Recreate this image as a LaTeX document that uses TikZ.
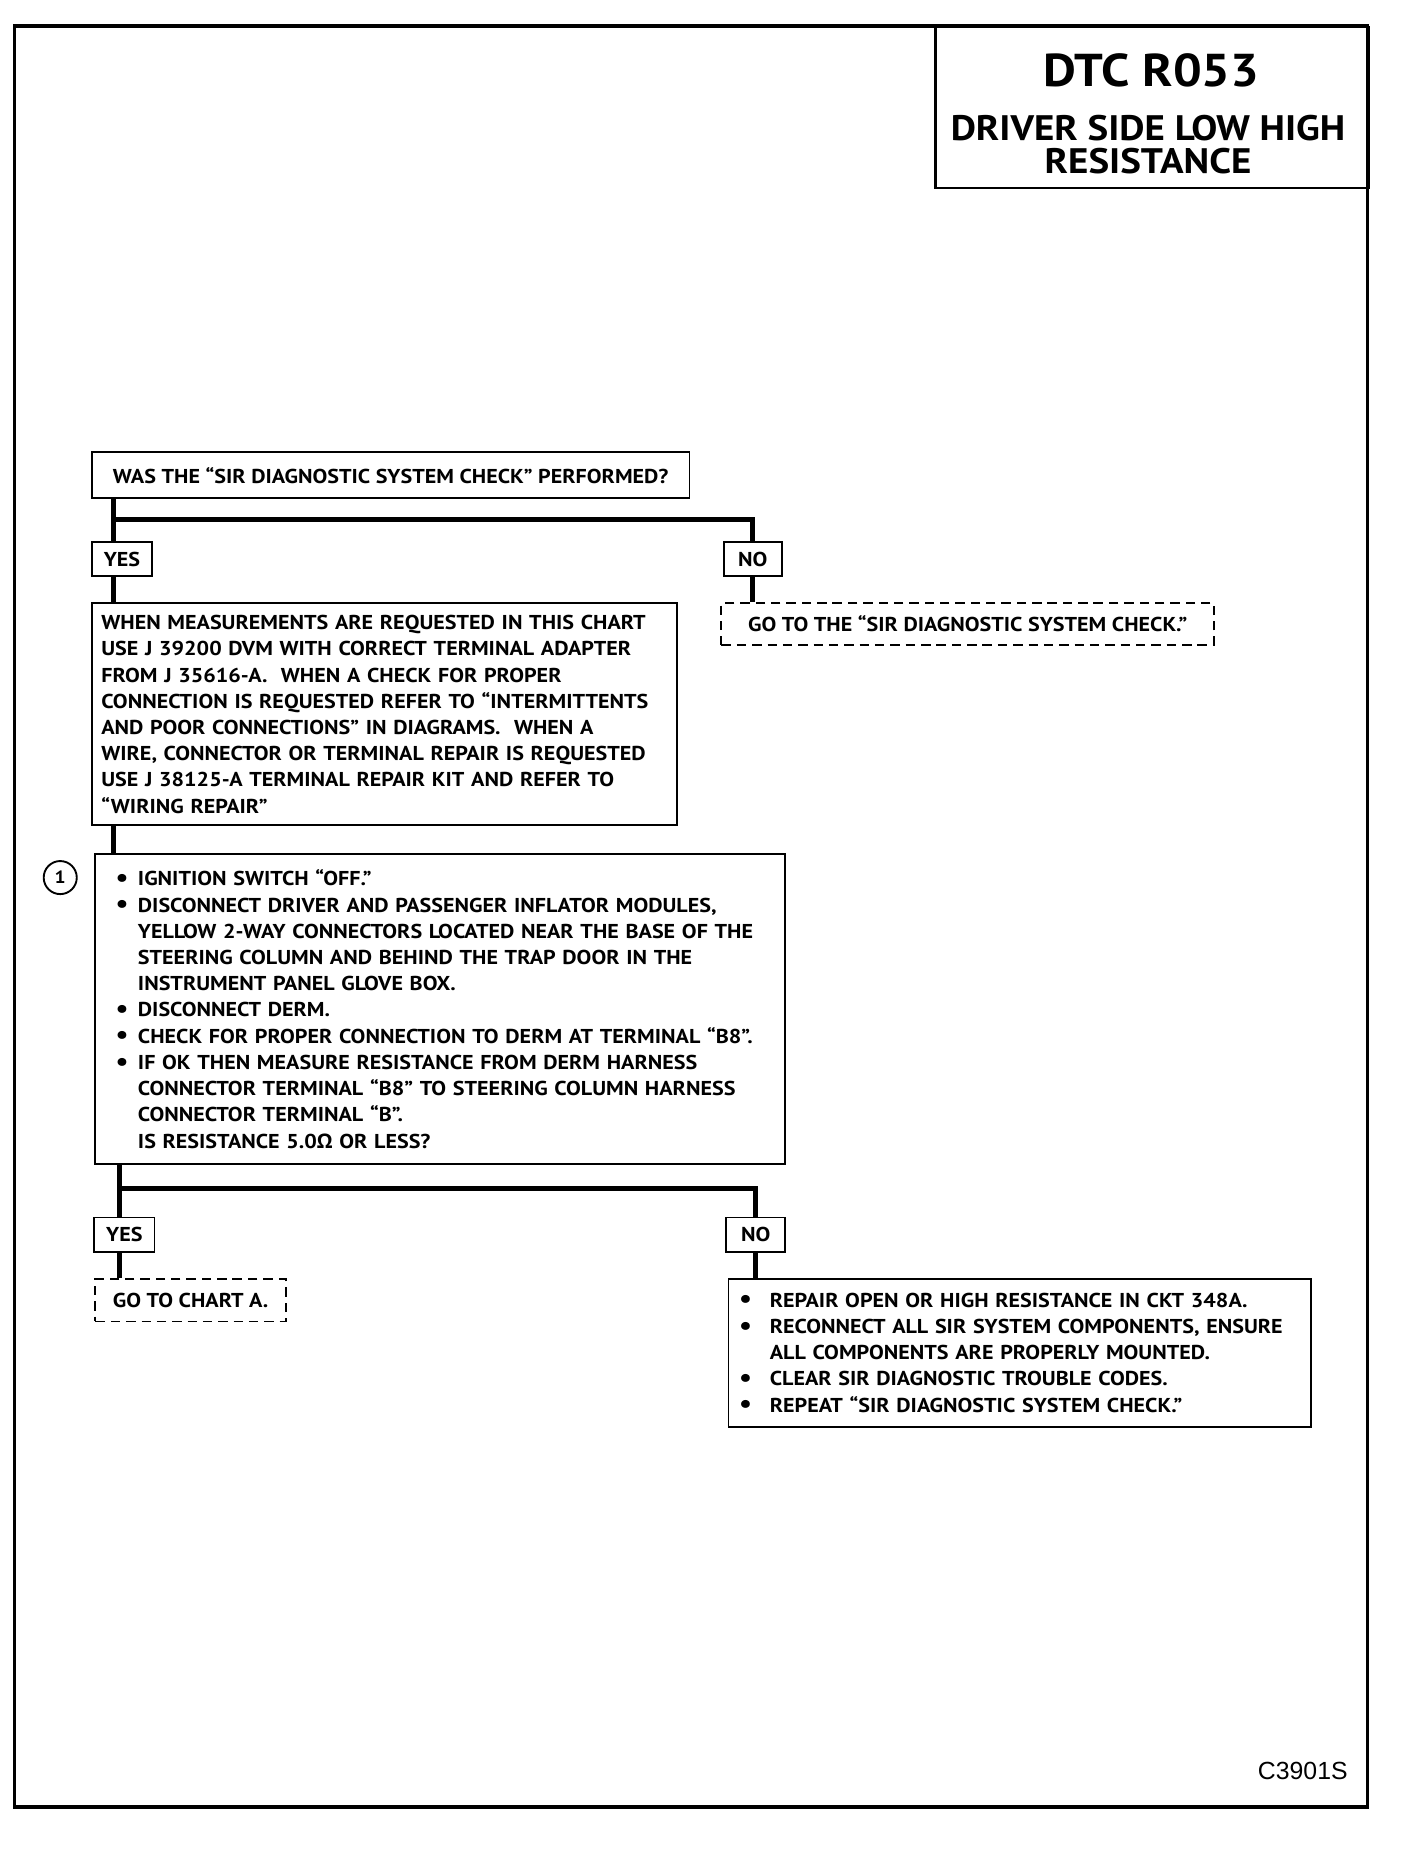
\documentclass[tikz,border=0pt]{standalone}
\usepackage{fontspec}
\setmainfont[FakeStretch=1.1]{PT Sans}
\newfontfamily\titlef[FakeStretch=1.1]{PT Sans}
\newfontfamily\arialf{Liberation Sans}
\newfontfamily\greekf{Open Sans}
\usetikzlibrary{calc}
\newcommand{\bdot}{{\fontsize{11}{11}\selectfont\raisebox{-0.3pt}{\textbullet}}}
\newcommand{\bl}[1]{\makebox[9.5pt][l]{\bdot}#1}
\newcommand{\ct}[1]{\hspace*{9.5pt}#1}
\newcommand{\blb}[1]{\makebox[13pt][l]{\bdot}#1}
\newcommand{\ctb}[1]{\hspace*{13pt}#1}
\begin{document}
\begin{tikzpicture}[x=0.5pt,y=-0.5pt,
  box/.style={draw, line width=0.8pt, anchor=north west, inner ysep=0pt, inner xsep=4pt,
    font=\bfseries\fontsize{8.5}{11.1}\selectfont},
  dbox/.style={box, dash pattern=on 4pt off 2.5pt},
  lab/.style={box, minimum height=14.5pt, align=center, inner xsep=0pt},
  conn/.style={line width=2pt},
  ttl/.style={anchor=base, inner sep=0pt, font=\titlef\bfseries\fontsize{15}{15}\selectfont},
]
\useasboundingbox (0,0) rectangle (1192,1568);
% frame
\draw[line width=1.4pt] (12,22) rectangle (1158,1530);
% title
\node[draw, line width=1pt, anchor=north west, minimum width=183.5pt, minimum height=68pt, inner sep=0pt] (title) at (791,22) {};
\node[ttl, font=\titlef\bfseries\fontsize{19.5}{19.5}\selectfont] (t1) at (975,73) {DTC R053};
\node[ttl] (t2) at (972,119) {DRIVER SIDE LOW HIGH};
\node[ttl] (t3) at (972,147) {RESISTANCE};

% first question
\node[box, minimum width=253pt, minimum height=19.5pt] (q1) at (77,382)
  {WAS THE ``SIR DIAGNOSTIC SYSTEM CHECK'' PERFORMED?};
\node[lab, minimum width=25.5pt] (yes1) at (77,458) {YES};
\node[lab, minimum width=24.5pt] (no1) at (612,458) {NO};
\node[box, text width=239.5pt, minimum height=94pt, align=left] (b2) at (77,510)
  {WHEN MEASUREMENTS ARE REQUESTED IN THIS CHART\\
   USE J 39200 DVM WITH CORRECT TERMINAL ADAPTER\\
   FROM J 35616-A.\ \ WHEN A CHECK FOR PROPER\\
   CONNECTION IS REQUESTED REFER TO ``INTERMITTENTS\\
   AND POOR CONNECTIONS'' IN DIAGRAMS.\ \ WHEN A\\
   WIRE, CONNECTOR OR TERMINAL REPAIR IS REQUESTED\\
   USE J 38125-A TERMINAL REPAIR KIT AND REFER TO\\
   ``WIRING REPAIR''};
\node[dbox, minimum width=208.5pt, minimum height=17.5pt] (d1) at (610,510)
  {GO TO THE ``SIR DIAGNOSTIC SYSTEM CHECK.''};

% step 1
\node[box, text width=275pt, inner xsep=8.5pt, minimum height=131.5pt, align=left] (b3) at (80,722)
  {\bl{IGNITION SWITCH ``OFF.''}\\
   \bl{DISCONNECT DRIVER AND PASSENGER INFLATOR MODULES,}\\
   \ct{YELLOW 2-WAY CONNECTORS LOCATED NEAR THE BASE OF THE}\\
   \ct{STEERING COLUMN AND BEHIND THE TRAP DOOR IN THE}\\
   \ct{INSTRUMENT PANEL GLOVE BOX.}\\
   \bl{DISCONNECT DERM.}\\
   \bl{CHECK FOR PROPER CONNECTION TO DERM AT TERMINAL ``B8''.}\\
   \bl{IF OK THEN MEASURE RESISTANCE FROM DERM HARNESS}\\
   \ct{CONNECTOR TERMINAL ``B8'' TO STEERING COLUMN HARNESS}\\
   \ct{CONNECTOR TERMINAL ``B''.}\\
   \ct{IS RESISTANCE 5.0{\greekf Ω} OR LESS?}};
\node[circle, draw, line width=0.8pt, minimum size=14pt, inner sep=0pt,
  font=\bfseries\fontsize{7.5}{7.5}\selectfont] (c1) at (51,743) {1};

\node[lab, minimum width=25.5pt] (yes2) at (79,1030) {YES};
\node[lab, minimum width=25pt] (no2) at (614,1030) {NO};
\node[dbox, minimum width=80.5pt, minimum height=18pt] (d2) at (80,1082) {GO TO CHART A.};
\node[box, text width=237.5pt, inner xsep=4.5pt, minimum height=62.5pt, align=left] (b4) at (616,1082)
  {\blb{REPAIR OPEN OR HIGH RESISTANCE IN CKT 348A.}\\
   \blb{RECONNECT ALL SIR SYSTEM COMPONENTS, ENSURE}\\
   \ctb{ALL COMPONENTS ARE PROPERLY MOUNTED.}\\
   \blb{CLEAR SIR DIAGNOSTIC TROUBLE CODES.}\\
   \blb{REPEAT ``SIR DIAGNOSTIC SYSTEM CHECK.''}};

\node[anchor=base, inner sep=0pt, font=\arialf\fontsize{10.5}{10.5}\selectfont] (code) at (1103,1507) {C3901S};

% connectors
\coordinate (j1) at (96,440);
\coordinate (j2) at (101,1006);
\draw[conn] (q1.south -| j1) -- (j1) -| (no1.north);
\draw[conn] (j1) -- (yes1.north -| j1);
\draw[conn] (yes1.south -| j1) -- (b2.north -| j1);
\draw[conn] (no1.south) -- (d1.north -| no1.south);
\draw[conn] (b2.south -| j1) -- (b3.north -| j1);
\draw[conn] (b3.south -| j2) -- (j2) -| (no2.north);
\draw[conn] (j2) -- (yes2.north -| j2);
\draw[conn] (yes2.south -| j2) -- (d2.north -| j2);
\draw[conn] (no2.south) -- (b4.north -| no2.south);
\end{tikzpicture}
\end{document}
